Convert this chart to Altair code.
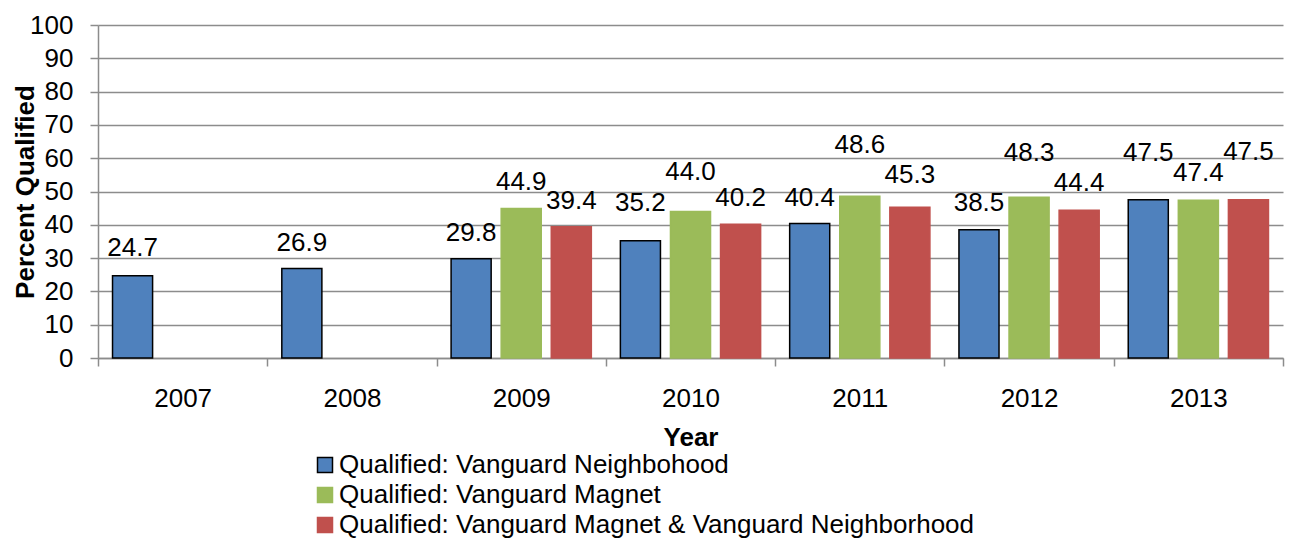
import altair as alt
import pandas as pd

years = ["2007", "2008", "2009", "2010", "2011", "2012", "2013"]
series_names = [
    "Qualified: Vanguard Neighbohood",
    "Qualified: Vanguard Magnet",
    "Qualified: Vanguard Magnet & Vanguard Neighborhood",
]
neighborhood = [24.7, 26.9, 29.8, 35.2, 40.4, 38.5, 47.5]
magnet = [None, None, 44.9, 44.0, 48.6, 48.3, 47.4]
both = [None, None, 39.4, 40.2, 45.3, 44.4, 47.5]

# height (in percent units) at which each data label sits in the reference
neighborhood_label_at = [33.0, 34.6, 37.6, 46.4, 48.0, 46.6, 61.6]
magnet_label_at = [None, None, 52.9, 55.9, 64.0, 61.6, 55.6]
both_label_at = [None, None, 47.0, 48.0, 55.0, 52.6, 61.9]

colors = ["#4F81BD", "#9BBB59", "#C0504D"]
strokes = ["#000000", "#9BBB59", "#C0504D"]

rows = []
for name, vals, labs in zip(series_names,
                            [neighborhood, magnet, both],
                            [neighborhood_label_at, magnet_label_at, both_label_at]):
    for y, v, l in zip(years, vals, labs):
        if v is not None:
            rows.append({"year": y, "series": name, "value": v, "label_at": l})
df = pd.DataFrame(rows)

FONT = "Liberation Sans"
FS = 26
GRID = "#8C8C8C"

legend_kw = dict(title=None, orient="none", legendX=214, legendY=427,
                 direction="vertical", labelFontSize=FS, labelFont=FONT,
                 labelColor="black", symbolType="square", symbolSize=225,
                 symbolStrokeWidth=1.5, symbolOpacity=1, labelLimit=0,
                 rowPadding=4, labelOffset=1, padding=0)

x_axis = alt.Axis(title="Year", labelAngle=0, tickBand="extent",
                  labelFontSize=FS, labelColor="black", labelFont=FONT,
                  labelPadding=19, tickSize=8, tickColor=GRID,
                  tickWidth=1.5, domainColor=GRID, domainWidth=1.5,
                  titleFontSize=FS, titleFont=FONT, titleFontWeight="bold",
                  titleColor="black", titleBaseline="alphabetic",
                  titleX=592.5, titleY=87, grid=False)
y_axis = alt.Axis(title="Percent Qualified", values=list(range(0, 101, 10)),
                  labelOverlap=False,
                  labelFontSize=FS, labelColor="black", labelFont=FONT,
                  labelPadding=17, tickSize=8, tickColor=GRID, tickWidth=1.5,
                  domainColor=GRID, domainWidth=1.5,
                  grid=True, gridColor=GRID, gridWidth=1.5,
                  titleFontSize=FS, titleFont=FONT, titleFontWeight="bold",
                  titleColor="black", titleBaseline="alphabetic",
                  titleAngle=-90, titleX=-65, titleY=166.5)
x_scale = alt.Scale(paddingInner=0, paddingOuter=0)
y_scale = alt.Scale(domain=[0, 100], nice=False)
off_scale = alt.Scale(domain=series_names, paddingInner=0.2, paddingOuter=0.29)

bars = alt.Chart(df).mark_bar(strokeWidth=1.5).encode(
    x=alt.X("year:N", sort=years, scale=x_scale, axis=x_axis),
    xOffset=alt.XOffset("series:N", scale=off_scale),
    y=alt.Y("value:Q", scale=y_scale, axis=y_axis),
    color=alt.Color("series:N",
                    scale=alt.Scale(domain=series_names, range=colors),
                    legend=alt.Legend(**legend_kw)),
    stroke=alt.Stroke("series:N",
                      scale=alt.Scale(domain=series_names, range=strokes),
                      legend=alt.Legend(**legend_kw)),
)

labels = alt.Chart(df).mark_text(fontSize=FS, font=FONT, color="black",
                                 baseline="middle", align="center").encode(
    x=alt.X("year:N", sort=years, scale=x_scale, axis=x_axis),
    xOffset=alt.XOffset("series:N", scale=off_scale),
    y=alt.Y("label_at:Q", scale=y_scale, axis=y_axis),
    text=alt.Text("value:Q", format=".1f"),
)

chart = alt.layer(bars, labels).properties(
    width=1185, height=333,
    autosize=alt.AutoSizeParams(type="none"),
    padding={"left": 90, "top": 17, "right": 2, "bottom": 181},
).configure(font=FONT, view=alt.ViewConfig(stroke=None))

chart.save("out.html", embed_options={"renderer": "svg", "actions": False})
